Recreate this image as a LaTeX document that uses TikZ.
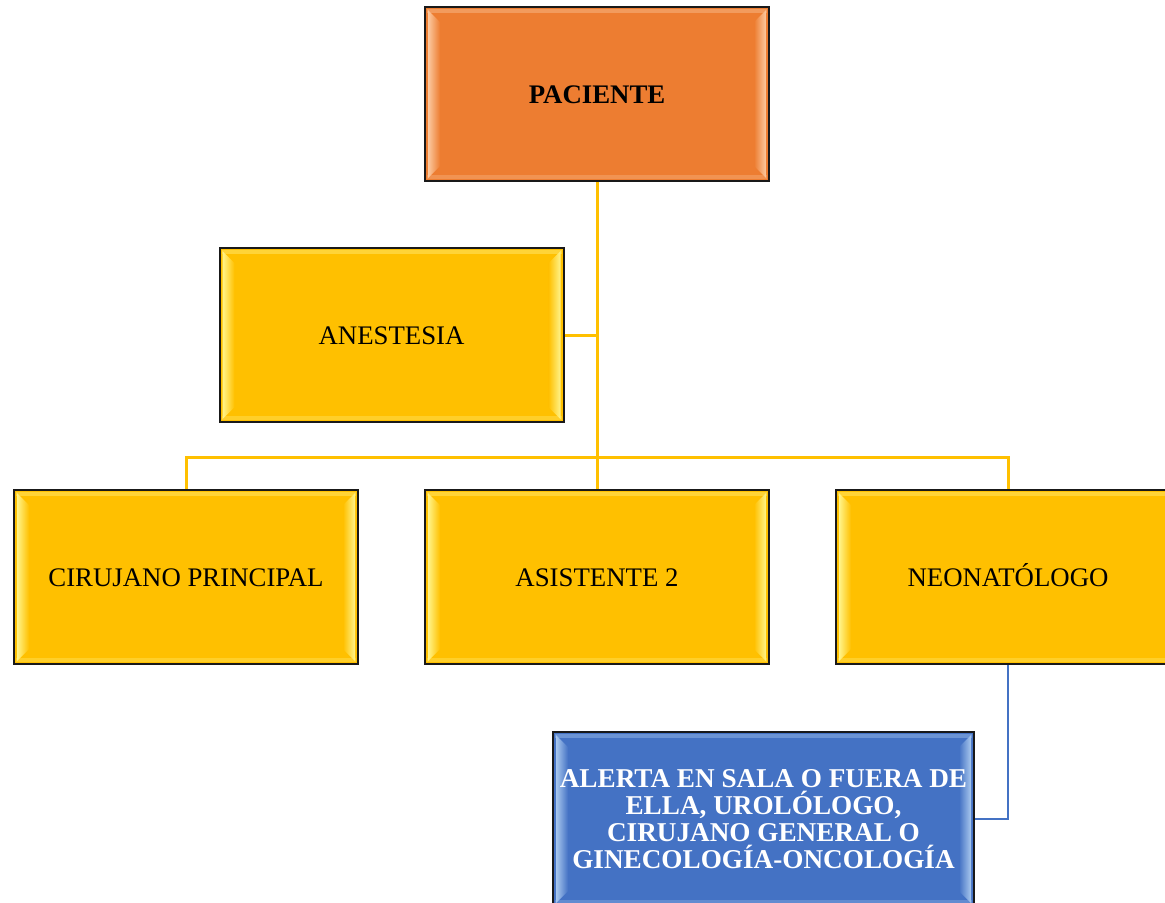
\documentclass[tikz,border=0pt]{standalone}
\usepackage{fontspec}
\setmainfont{Liberation Serif}
\begin{document}
\definecolor{orgfill}{HTML}{ED7D31}
\definecolor{orglight}{HTML}{FBC9A0}
\definecolor{yelfill}{HTML}{FFC000}
\definecolor{yellight}{HTML}{FFF48A}
\definecolor{blufill}{HTML}{4472C4}
\definecolor{blulight}{HTML}{A9C8EE}
\tikzset{
  bevelbox/.style 2 args={
    draw=black!90, line width=1pt, fill=#1,
    minimum width=172pt, minimum height=87pt, inner sep=2pt,
    font=\fontsize{13.4}{15}\selectfont, text height=10.25pt, text depth=0.75pt,
    path picture={
      % soft top and bottom bands
      \fill[#2, opacity=0.4]
        ([xshift=1pt,yshift=-1pt]path picture bounding box.north west) rectangle
        ([xshift=-1pt,yshift=-3pt]path picture bounding box.north east);
      \fill[#2, opacity=0.3]
        ([xshift=1pt,yshift=1pt]path picture bounding box.south west) rectangle
        ([xshift=-1pt,yshift=3pt]path picture bounding box.south east);
      % left bevel strip
      \shade[left color=#2, right color=#1]
        ([xshift=1.5pt,yshift=-1.5pt]path picture bounding box.north west) --
        ([xshift=7.5pt,yshift=-7.5pt]path picture bounding box.north west) --
        ([xshift=7.5pt,yshift=7.5pt]path picture bounding box.south west) --
        ([xshift=1.5pt,yshift=1.5pt]path picture bounding box.south west) -- cycle;
      % right bevel strip
      \shade[left color=#1, right color=#2]
        ([xshift=-1.5pt,yshift=-1.5pt]path picture bounding box.north east) --
        ([xshift=-7.5pt,yshift=-7.5pt]path picture bounding box.north east) --
        ([xshift=-7.5pt,yshift=7.5pt]path picture bounding box.south east) --
        ([xshift=-1.5pt,yshift=1.5pt]path picture bounding box.south east) -- cycle;
    }},
  orgbox/.style={bevelbox={orgfill}{orglight}, font=\fontsize{13.4}{15}\selectfont\bfseries},
  yelbox/.style={bevelbox={yelfill}{yellight}},
  blubox/.style={bevelbox={blufill}{blulight}, minimum width=210.5pt,
    text height=, text depth=, align=center,
    text=white, font=\fontsize{13.6}{13.6}\selectfont\bfseries},
  yelline/.style={draw=yelfill, line width=1.5pt},
  bluline/.style={draw=blufill, line width=1.2pt},
}
\begin{tikzpicture}[x=0.5pt,y=-0.5pt]
  \useasboundingbox (0,0) rectangle (1165,902);
  \clip (0,0) rectangle (1165,902);

  % boxes
  \node[orgbox] (pac) at (597,94) {PACIENTE};
  \node[yelbox] (anes) at (391.5,335) {ANESTESIA};
  \node[yelbox] (cir) at (186,577) {CIRUJANO PRINCIPAL};
  \node[yelbox] (ast) at (597,577) {ASISTENTE 2};
  \node[yelbox] (neo) at (1008,577) {NEONATÓLOGO};
  \node[blubox] (alert) at (763.5,819) {ALERTA EN SALA O FUERA DE\\ELLA, UROLÓLOGO,\\CIRUJANO GENERAL O\\GINECOLOGÍA-ONCOLOGÍA};

  % connectors
  \coordinate (bus) at (597,457);
  \draw[yelline] (pac.south) -- (ast.north);
  \draw[yelline] (anes.east) -- (anes.east -| pac.south);
  \draw[yelline] (cir.north) -- (cir.north |- bus) -- (neo.north |- bus) -- (neo.north);
  \draw[bluline] (neo.south) |- (alert.east);
\end{tikzpicture}
\end{document}
